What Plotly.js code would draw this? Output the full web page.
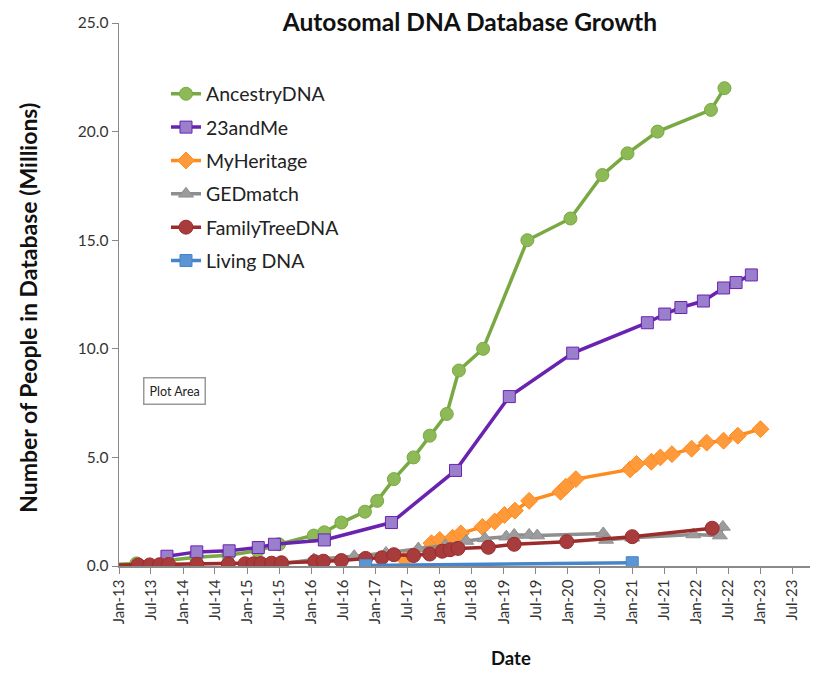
<!DOCTYPE html>
<html>
<head>
<meta charset="utf-8">
<script src="https://cdn.plot.ly/plotly-3.0.1.min.js"></script>
<style>html,body{margin:0;padding:0;background:#fff;}#chart{width:813px;height:674px;}</style>
</head>
<body>
<div id="chart"></div>
<script>
// ---- Data (millions of people) ----
const ancestryDates = ["2012-10-01","2013-04-10","2013-10-01","2014-03-15","2014-09-15","2015-03-01","2015-07-01","2016-01-15","2016-03-15","2016-06-20","2016-11-01","2017-01-10","2017-04-15","2017-08-05","2017-11-05","2018-02-10","2018-04-20","2018-09-05","2019-05-15","2020-01-15","2020-07-15","2020-12-05","2021-05-25","2022-03-25","2022-06-10"];
const ancestryValues = [0.05,0.12,0.25,0.4,0.5,0.7,1.0,1.4,1.55,2.0,2.5,3.0,4.0,5.0,6.0,7.0,9.0,10.0,15.0,16.0,18.0,19.0,20.0,21.0,22.0];

const meDates = ["2013-10-01","2014-03-20","2014-09-20","2015-03-05","2015-06-05","2016-03-15","2017-04-01","2018-04-01","2019-02-01","2020-01-28","2021-03-28","2021-07-05","2021-10-05","2022-02-10","2022-06-05","2022-08-15","2022-11-10"];
const meValues = [0.45,0.65,0.7,0.85,1.0,1.2,2.0,4.4,7.8,9.8,11.2,11.6,11.9,12.2,12.8,13.05,13.4];

const myHeritageDates = ["2017-06-15","2017-11-15","2018-01-01","2018-03-15","2018-05-01","2018-09-01","2018-11-10","2019-01-05","2019-03-05","2019-05-25","2019-11-20","2019-12-20","2020-02-15","2020-12-20","2021-01-25","2021-04-20","2021-06-10","2021-08-15","2021-12-05","2022-03-01","2022-06-05","2022-08-25","2023-01-01"];
const myHeritageValues = [0.3,1.05,1.2,1.3,1.5,1.8,2.05,2.35,2.55,3.0,3.42,3.65,4.0,4.45,4.7,4.8,5.0,5.15,5.4,5.68,5.77,6.0,6.3];

const gedDates = ["2015-07-20","2016-01-15","2016-09-01","2017-03-01","2017-09-01","2018-02-01","2018-06-01","2018-09-15","2019-01-15","2019-03-01","2019-05-25","2019-07-10","2020-07-20","2020-08-05","2021-01-01","2021-12-15","2022-05-15","2022-06-01"];
const gedValues = [0.1,0.3,0.45,0.6,0.8,0.95,1.15,1.27,1.35,1.43,1.43,1.4,1.5,1.2,1.3,1.45,1.4,1.8];

const ftdnaDates = ["2012-10-01","2013-04-20","2013-06-25","2013-08-20","2013-10-10","2014-03-20","2014-09-15","2014-12-20","2015-02-05","2015-03-20","2015-05-20","2015-07-15","2016-01-20","2016-03-10","2016-06-20","2016-11-05","2017-02-05","2017-04-15","2017-08-05","2017-11-05","2018-01-15","2018-03-01","2018-04-15","2018-10-05","2019-03-01","2019-12-25","2021-01-01","2022-04-01"];
const ftdnaValues = [0.03,0.05,0.05,0.06,0.07,0.08,0.09,0.1,0.1,0.11,0.13,0.15,0.2,0.22,0.25,0.35,0.38,0.52,0.48,0.55,0.68,0.75,0.81,0.86,1.0,1.12,1.35,1.74];

const livingDates = ["2016-11-05","2021-01-01"];
const livingValues = [0.02,0.15];

const seriesNames = ["AncestryDNA","23andMe","MyHeritage","GEDmatch","FamilyTreeDNA","Living DNA"];
const yTickVals = [0,5,10,15,20,25];

// ---- Styles ----
const FONT = "Lato, 'Open Sans', sans-serif";
const styles = [
  {line:"#79A942", fill:"#8DBA57", symbol:"circle", size:13},
  {line:"#6A22B0", fill:"#9A80CC", symbol:"square", size:12},
  {line:"#FF8A1E", fill:"#FF9A3A", symbol:"diamond", size:13},
  {line:"#8E8E8E", fill:"#9C9C9C", symbol:"triangle-up", size:13},
  {line:"#9C2B2C", fill:"#A83C3C", symbol:"circle", size:14},
  {line:"#4785C9", fill:"#5B95D4", symbol:"square", size:12}
];
const xs = [ancestryDates, meDates, myHeritageDates, gedDates, ftdnaDates, livingDates];
const ys = [ancestryValues, meValues, myHeritageValues, gedValues, ftdnaValues, livingValues];

const traces = seriesNames.map((n,i)=>({
  type:"scatter", mode:"lines+markers", name:n, x:xs[i], y:ys[i],
  legendgroup:"g"+i,
  line:{color:styles[i].line, width:3.5},
  marker:{symbol:styles[i].symbol, size:styles[i].size, color:styles[i].fill,
          line:{color:styles[i].line, width:1}},
  cliponaxis:true
}));

const layout = {
  width:813, height:674,
  margin:{l:119, r:3, t:23, b:108},
  paper_bgcolor:"#fff", plot_bgcolor:"#fff",
  showlegend:true,
  legend:{x:0.068, y:0.905, xanchor:"left", yanchor:"top", bgcolor:"rgba(0,0,0,0)",
          font:{family:FONT, size:19.5, color:"#222"}, traceorder:"grouped", tracegroupgap:5},
  title:{text:"<b>Autosomal DNA Database Growth</b>", x:0.578, xref:"container", xanchor:"center",
         y:1-22/674, yref:"container", yanchor:"middle", font:{family:FONT, size:24.5, color:"#111"}},
  xaxis:{type:"date", range:["2013-01-01","2023-10-10"], tick0:"2013-01-01", dtick:"M6",
         tickformat:"%b-%y", tickangle:-90, ticks:"outside", ticklen:6, tickcolor:"#888",
         showgrid:false, zeroline:false, showline:true, linecolor:"#8a8a8a", linewidth:1.5,
         tickfont:{family:FONT, size:15, color:"#333"}, fixedrange:true},
  yaxis:{range:[0,25], tickvals:yTickVals, tickformat:".1f", ticks:"outside", ticklen:6,
         tickcolor:"#888", showgrid:false, zeroline:false, showline:true, linecolor:"#8a8a8a",
         linewidth:1.5, tickfont:{family:FONT, size:15.5, color:"#333"}, fixedrange:true},
  annotations:[
    {text:"<b>Date</b>", xref:"paper", yref:"paper", x:(511-119)/691, y:-0.17, xanchor:"center", yanchor:"middle",
     showarrow:false, font:{family:FONT, size:18.5, color:"#111"}},
    {text:"<b>Number of People in Database (Millions)</b>", xref:"paper", yref:"paper", x:-0.132, y:(566-308)/543,
     xanchor:"center", yanchor:"middle", textangle:-90, showarrow:false, font:{family:FONT, size:23, color:"#111"}},
    {text:"Plot Area", xref:"paper", yref:"paper", x:(174-119)/691, y:(566-391)/543, xanchor:"center", yanchor:"middle",
     showarrow:false, bgcolor:"#fff", bordercolor:"#999", borderwidth:1.5, borderpad:5,
     font:{family:FONT, size:12.5, color:"#222"}}
  ]
};
Plotly.newPlot("chart", traces, layout, {displayModeBar:false, staticPlot:true});
</script>
</body>
</html>
